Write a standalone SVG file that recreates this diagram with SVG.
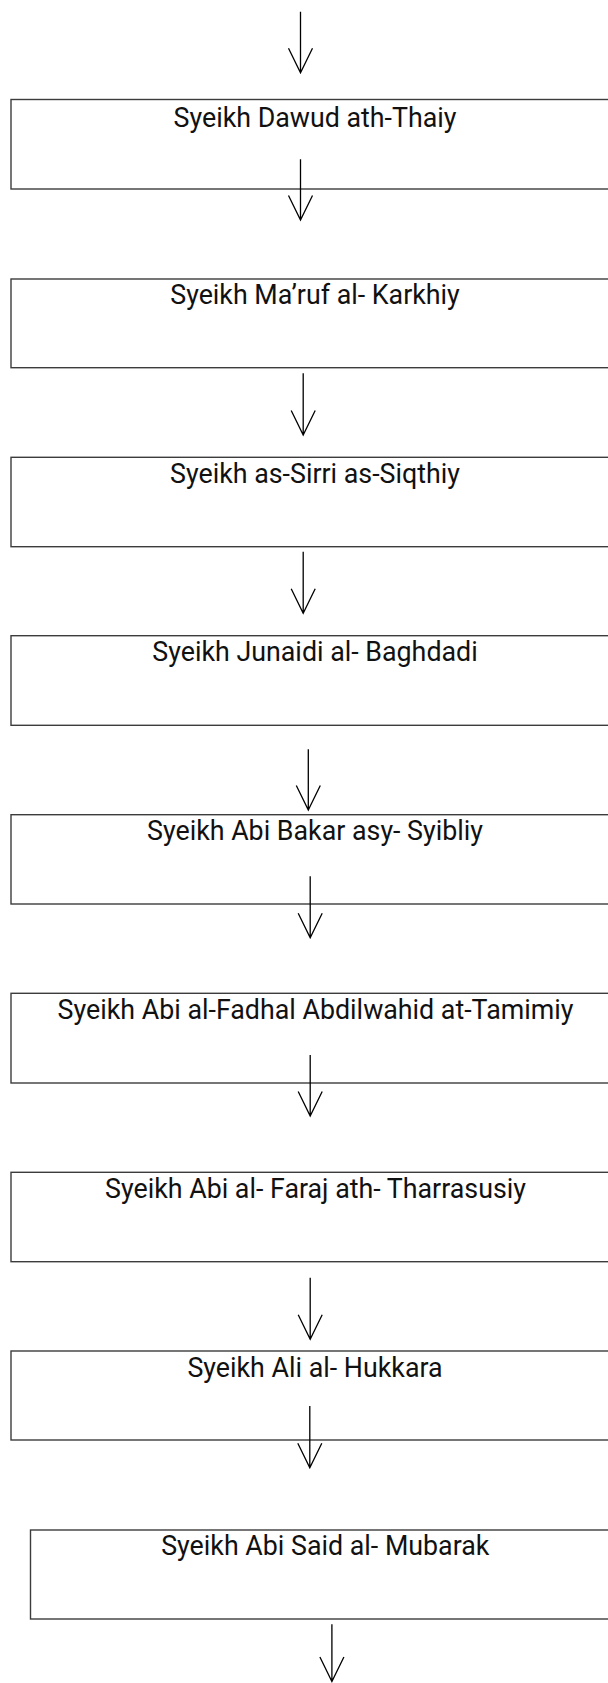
<svg xmlns="http://www.w3.org/2000/svg" width="608" height="1683" viewBox="0 0 608 1683">
  <style>
    .box { fill: #ffffff; stroke: #3c3c3c; stroke-width: 1.4; }
    .lbl { font-family: Roboto, "Liberation Sans", sans-serif; font-size: 26.8px; fill: #111111; text-anchor: middle; }
    .arr { stroke: #000000; stroke-width: 1.3; fill: none; }
  </style>
  <rect x="0" y="0" width="608" height="1683" fill="#ffffff"/>
  <g id="node1"><rect class="box" x="11" y="99.5" width="610" height="89.5"/><text class="lbl" x="315" y="127">Syeikh Dawud ath-Thaiy</text></g>
  <g id="node2"><rect class="box" x="11" y="279" width="610" height="88.7"/><text class="lbl" x="315" y="304">Syeikh Ma’ruf al- Karkhiy</text></g>
  <g id="node3"><rect class="box" x="11" y="457.3" width="610" height="89.4"/><text class="lbl" x="315" y="482.5">Syeikh as-Sirri as-Siqthiy</text></g>
  <g id="node4"><rect class="box" x="11" y="635.7" width="610" height="89.6"/><text class="lbl" x="315" y="661">Syeikh Junaidi al- Baghdadi</text></g>
  <g id="node5"><rect class="box" x="11" y="814.7" width="610" height="89.3"/><text class="lbl" x="315" y="840">Syeikh Abi Bakar asy- Syibliy</text></g>
  <g id="node6"><rect class="box" x="11" y="993.3" width="610" height="89.7"/><text class="lbl" x="315.5" y="1018.5">Syeikh Abi al-Fadhal Abdilwahid at-Tamimiy</text></g>
  <g id="node7"><rect class="box" x="11" y="1172.3" width="610" height="89.4"/><text class="lbl" x="315.5" y="1197.5">Syeikh Abi al- Faraj ath- Tharrasusiy</text></g>
  <g id="node8"><rect class="box" x="11" y="1351" width="610" height="89"/><text class="lbl" x="315" y="1376.5">Syeikh Ali al- Hukkara</text></g>
  <g id="node9"><rect class="box" x="30.5" y="1530" width="610" height="89"/><text class="lbl" x="325.3" y="1554.5">Syeikh Abi Said al- Mubarak</text></g>
  <g id="connectors">
    <path class="arr" d="M300.5,11.7 V72.7 M288.5,48.2 L300.5,72.7 L312.5,48.2"/>
    <path class="arr" d="M300.5,159.3 V220 M288.5,195.5 L300.5,220 L312.5,195.5"/>
    <path class="arr" d="M303.2,373.3 V435 M291.2,410.5 L303.2,435 L315.2,410.5"/>
    <path class="arr" d="M303.2,551.7 V613.3 M291.2,588.8 L303.2,613.3 L315.2,588.8"/>
    <path class="arr" d="M308.3,749.3 V810 M296.3,785.5 L308.3,810 L320.3,785.5"/>
    <path class="arr" d="M310.2,876.3 V937.7 M298.2,913.2 L310.2,937.7 L322.2,913.2"/>
    <path class="arr" d="M310.2,1055 V1116 M298.2,1091.5 L310.2,1116 L322.2,1091.5"/>
    <path class="arr" d="M310.2,1277.7 V1339.3 M298.2,1314.8 L310.2,1339.3 L322.2,1314.8"/>
    <path class="arr" d="M309.8,1406 V1467.7 M297.8,1443.2 L309.8,1467.7 L321.8,1443.2"/>
    <path class="arr" d="M331.9,1624.3 V1681.5 M319.9,1657 L331.9,1681.5 L343.9,1657"/>
  </g>
</svg>
